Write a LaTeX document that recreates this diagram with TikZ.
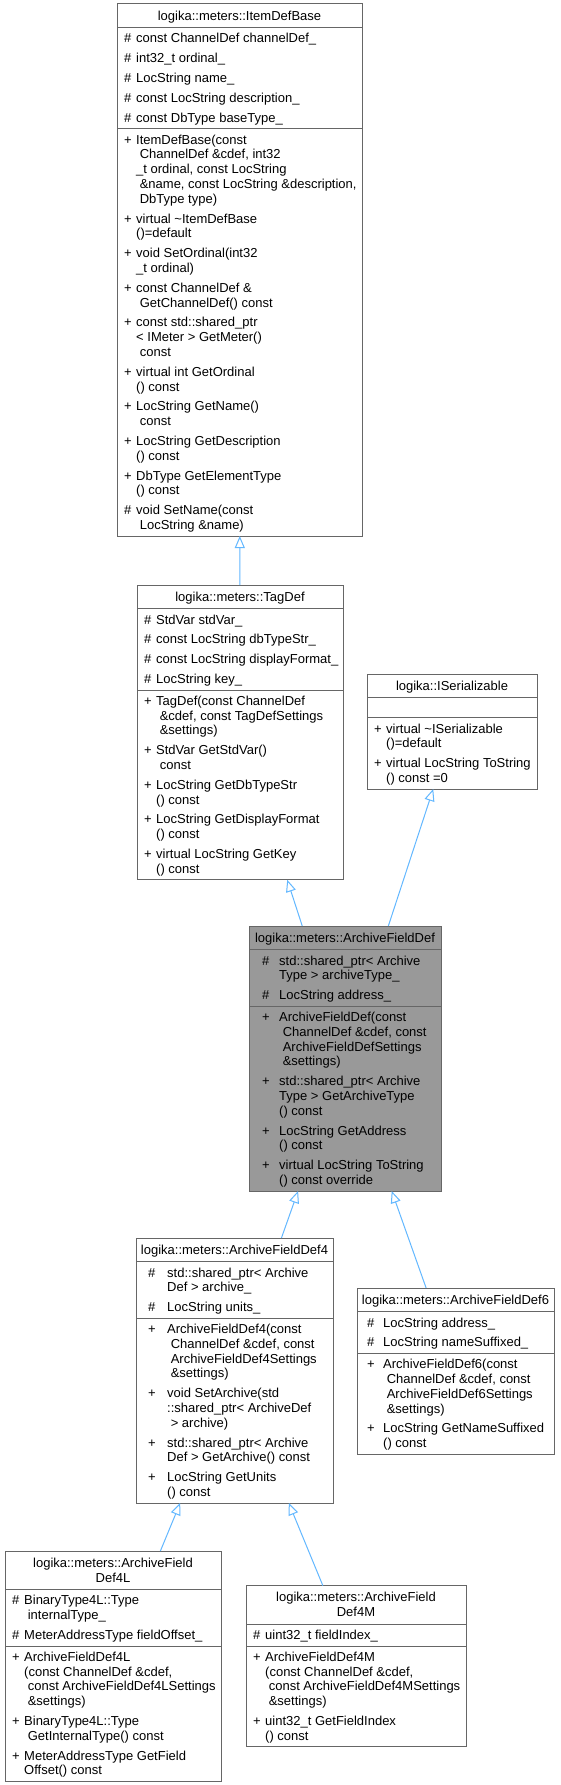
\documentclass[tikz,border=0pt]{standalone}
\usepackage{fontspec}
\setmainfont{Liberation Sans}
\usetikzlibrary{arrows.meta}
\pgfdeclarelayer{bg}
\pgfsetlayers{bg,main}
\definecolor{edgeblue}{HTML}{63B8FF}
\definecolor{bordergray}{HTML}{666666}
\definecolor{afdfill}{HTML}{999999}

\newcount\lnc
\def\Lh{14.8}
\def\Pd{5}

\newcommand\putline[3][txt]{%
  \pgfmathsetmacro\cyb{\cy+4.3}%
  \global\advance\lnc by 1
  \edef\tmp{\noexpand\node[#1] (t\the\lnc) at (#2,\cyb)}%
  \tmp{#3};}

\newcommand\clsBegin[5]{% left, top, width, symbol offset, text offset
  \def\bx{#1}\def\by{#2}\def\bw{#3}\def\cy{#2}%
  \pgfmathsetmacro\sx{#1+#4}\pgfmathsetmacro\tx{#1+#5}%
  \pgfmathsetmacro\cxm{#1+#3/2}\def\firstent{1}%
  \pgfmathsetmacro\cy{\cy+4.5}}
\newcommand\clsTitle[1]{%
  \pgfmathsetmacro\cy{\cy+\Lh/2}%
  \putline[ttl]{\cxm}{#1}%
  \pgfmathsetmacro\cy{\cy+\Lh/2}}
\newcommand\clsSepLine{\draw[sepl] (\bx,\cy) -- ++(\bw,0);\def\firstent{1}}
\newcommand\clsTitleEnd{\pgfmathsetmacro\cy{\cy+4.5}\clsSepLine}
\newcommand\clsEnt[2]{%
  \ifnum\firstent=1 \pgfmathsetmacro\cy{\cy+1+\Pd/2}\else\pgfmathsetmacro\cy{\cy+\Pd}\fi
  \def\firstent{0}%
  \pgfmathsetmacro\cy{\cy+\Lh/2}%
  \putline{\sx}{#1}%
  \putline{\tx}{#2}%
  \pgfmathsetmacro\cy{\cy+\Lh/2}}
\newcommand\clsLine[2]{%
  \pgfmathsetmacro\cy{\cy+\Lh/2}%
  \pgfmathsetmacro\lx{\tx+#1*3.6}%
  \putline{\lx}{#2}%
  \pgfmathsetmacro\cy{\cy+\Lh/2}}
\newcommand\clsEndSec{\pgfmathsetmacro\cy{\cy+\Pd/2+1}}
\newcommand\clsSep{\clsEndSec\clsSepLine}
\newcommand\clsEmpty{\pgfmathsetmacro\cy{\cy+20}\clsSepLine}
\newcommand\clsFinish[2]{%
  \clsEndSec
  \pgfmathsetmacro\bh{\cy-\by}%
  \begin{pgfonlayer}{bg}
  \node[clsbox, fill=#2, minimum width=\bw pt, minimum height=\bh pt] (#1) at (\bx,\by) {};
  \end{pgfonlayer}}

\begin{document}
\begin{tikzpicture}[x=1pt,y=-1pt,
  txt/.style={anchor=base west, inner sep=0pt, font=\fontsize{13}{14.8}\selectfont},
  ttl/.style={anchor=base, inner sep=0pt, font=\fontsize{13}{14.8}\selectfont},
  sepl/.style={draw=bordergray, line width=1pt},
  clsbox/.style={draw=bordergray, line width=1pt, anchor=north west, inner sep=0pt, outer sep=0pt},
  inh/.style={draw=edgeblue, line width=1pt, -{Triangle[open, length=12pt, width=10pt]}}]
\begin{pgfonlayer}{bg}
\fill[white] (0,0) rectangle (560,1785);
\end{pgfonlayer}
\useasboundingbox (0,0) rectangle (560,1785);

% ItemDefBase
\clsBegin{117}{4}{245}{7}{19}
\clsTitle{logika::meters::ItemDefBase}\clsTitleEnd
\clsEnt{\#}{const ChannelDef channelDef\_}
\clsEnt{\#}{int32\_t ordinal\_}
\clsEnt{\#}{LocString name\_}
\clsEnt{\#}{const LocString description\_}
\clsEnt{\#}{const DbType baseType\_}
\clsSep
\clsEnt{+}{ItemDefBase(const}
\clsLine1{ChannelDef \&cdef, int32}
\clsLine0{\_t ordinal, const LocString}
\clsLine1{\&name, const LocString \&description,}
\clsLine1{DbType type)}
\clsEnt{+}{virtual \textasciitilde ItemDefBase}
\clsLine0{()=default}
\clsEnt{+}{void SetOrdinal(int32}
\clsLine0{\_t ordinal)}
\clsEnt{+}{const ChannelDef \&}
\clsLine1{GetChannelDef() const}
\clsEnt{+}{const std::shared\_ptr}
\clsLine0{< IMeter > GetMeter()}
\clsLine1{const}
\clsEnt{+}{virtual int GetOrdinal}
\clsLine0{() const}
\clsEnt{+}{LocString GetName()}
\clsLine1{const}
\clsEnt{+}{LocString GetDescription}
\clsLine0{() const}
\clsEnt{+}{DbType GetElementType}
\clsLine0{() const}
\clsEnt{\#}{void SetName(const}
\clsLine1{LocString \&name)}
\clsFinish{idb}{white}

% TagDef
\clsBegin{137}{585}{206}{7}{19}
\clsTitle{logika::meters::TagDef}\clsTitleEnd
\clsEnt{\#}{StdVar stdVar\_}
\clsEnt{\#}{const LocString dbTypeStr\_}
\clsEnt{\#}{const LocString displayFormat\_}
\clsEnt{\#}{LocString key\_}
\clsSep
\clsEnt{+}{TagDef(const ChannelDef}
\clsLine1{\&cdef, const TagDefSettings}
\clsLine1{\&settings)}
\clsEnt{+}{StdVar GetStdVar()}
\clsLine1{const}
\clsEnt{+}{LocString GetDbTypeStr}
\clsLine0{() const}
\clsEnt{+}{LocString GetDisplayFormat}
\clsLine0{() const}
\clsEnt{+}{virtual LocString GetKey}
\clsLine0{() const}
\clsFinish{tagdef}{white}

% ISerializable
\clsBegin{367}{674}{170}{7}{19}
\clsTitle{logika::ISerializable}\clsTitleEnd
\clsEmpty
\clsEnt{+}{virtual \textasciitilde ISerializable}
\clsLine0{()=default}
\clsEnt{+}{virtual LocString ToString}
\clsLine0{() const =0}
\clsFinish{iser}{white}

% ArchiveFieldDef
\clsBegin{249}{926}{192}{13}{30}
\clsTitle{logika::meters::ArchiveFieldDef}\clsTitleEnd
\clsEnt{\#}{std::shared\_ptr< Archive}
\clsLine0{Type > archiveType\_}
\clsEnt{\#}{LocString address\_}
\clsSep
\clsEnt{+}{ArchiveFieldDef(const}
\clsLine1{ChannelDef \&cdef, const}
\clsLine1{ArchiveFieldDefSettings}
\clsLine1{\&settings)}
\clsEnt{+}{std::shared\_ptr< Archive}
\clsLine0{Type > GetArchiveType}
\clsLine0{() const}
\clsEnt{+}{LocString GetAddress}
\clsLine0{() const}
\clsEnt{+}{virtual LocString ToString}
\clsLine0{() const override}
\clsFinish{afd}{afdfill}

% ArchiveFieldDef4
\clsBegin{136}{1238}{197}{12}{31}
\clsTitle{logika::meters::ArchiveFieldDef4}\clsTitleEnd
\clsEnt{\#}{std::shared\_ptr< Archive}
\clsLine0{Def > archive\_}
\clsEnt{\#}{LocString units\_}
\clsSep
\clsEnt{+}{ArchiveFieldDef4(const}
\clsLine1{ChannelDef \&cdef, const}
\clsLine1{ArchiveFieldDef4Settings}
\clsLine1{\&settings)}
\clsEnt{+}{void SetArchive(std}
\clsLine0{::shared\_ptr< ArchiveDef}
\clsLine1{> archive)}
\clsEnt{+}{std::shared\_ptr< Archive}
\clsLine0{Def > GetArchive() const}
\clsEnt{+}{LocString GetUnits}
\clsLine0{() const}
\clsFinish{afd4}{white}

% ArchiveFieldDef6
\clsBegin{357}{1288}{197}{10}{26}
\clsTitle{logika::meters::ArchiveFieldDef6}\clsTitleEnd
\clsEnt{\#}{LocString address\_}
\clsEnt{\#}{LocString nameSuffixed\_}
\clsSep
\clsEnt{+}{ArchiveFieldDef6(const}
\clsLine1{ChannelDef \&cdef, const}
\clsLine1{ArchiveFieldDef6Settings}
\clsLine1{\&settings)}
\clsEnt{+}{LocString GetNameSuffixed}
\clsLine0{() const}
\clsFinish{afd6}{white}

% ArchiveFieldDef4L
\clsBegin{5}{1551}{216}{7}{19}
\clsTitle{logika::meters::ArchiveField}
\clsTitle{Def4L}\clsTitleEnd
\clsEnt{\#}{BinaryType4L::Type}
\clsLine1{internalType\_}
\clsEnt{\#}{MeterAddressType fieldOffset\_}
\clsSep
\clsEnt{+}{ArchiveFieldDef4L}
\clsLine0{(const ChannelDef \&cdef,}
\clsLine1{const ArchiveFieldDef4LSettings}
\clsLine1{\&settings)}
\clsEnt{+}{BinaryType4L::Type}
\clsLine1{GetInternalType() const}
\clsEnt{+}{MeterAddressType GetField}
\clsLine0{Offset() const}
\clsFinish{afdfl}{white}

% ArchiveFieldDef4M
\clsBegin{246}{1585.6}{220}{7}{19}
\clsTitle{logika::meters::ArchiveField}
\clsTitle{Def4M}\clsTitleEnd
\clsEnt{\#}{uint32\_t fieldIndex\_}
\clsSep
\clsEnt{+}{ArchiveFieldDef4M}
\clsLine0{(const ChannelDef \&cdef,}
\clsLine1{const ArchiveFieldDef4MSettings}
\clsLine1{\&settings)}
\clsEnt{+}{uint32\_t GetFieldIndex}
\clsLine0{() const}
\clsFinish{afdfm}{white}

% inheritance connectors
\draw[inh] (tagdef) -- (idb);
\draw[inh] (afd) -- (tagdef);
\draw[inh] (afd) -- (iser);
\draw[inh] (afd4) -- (afd);
\draw[inh] (afd6) -- (afd);
\draw[inh] (afdfl) -- (afd4);
\draw[inh] (afdfm) -- (afd4);
\end{tikzpicture}
\end{document}
